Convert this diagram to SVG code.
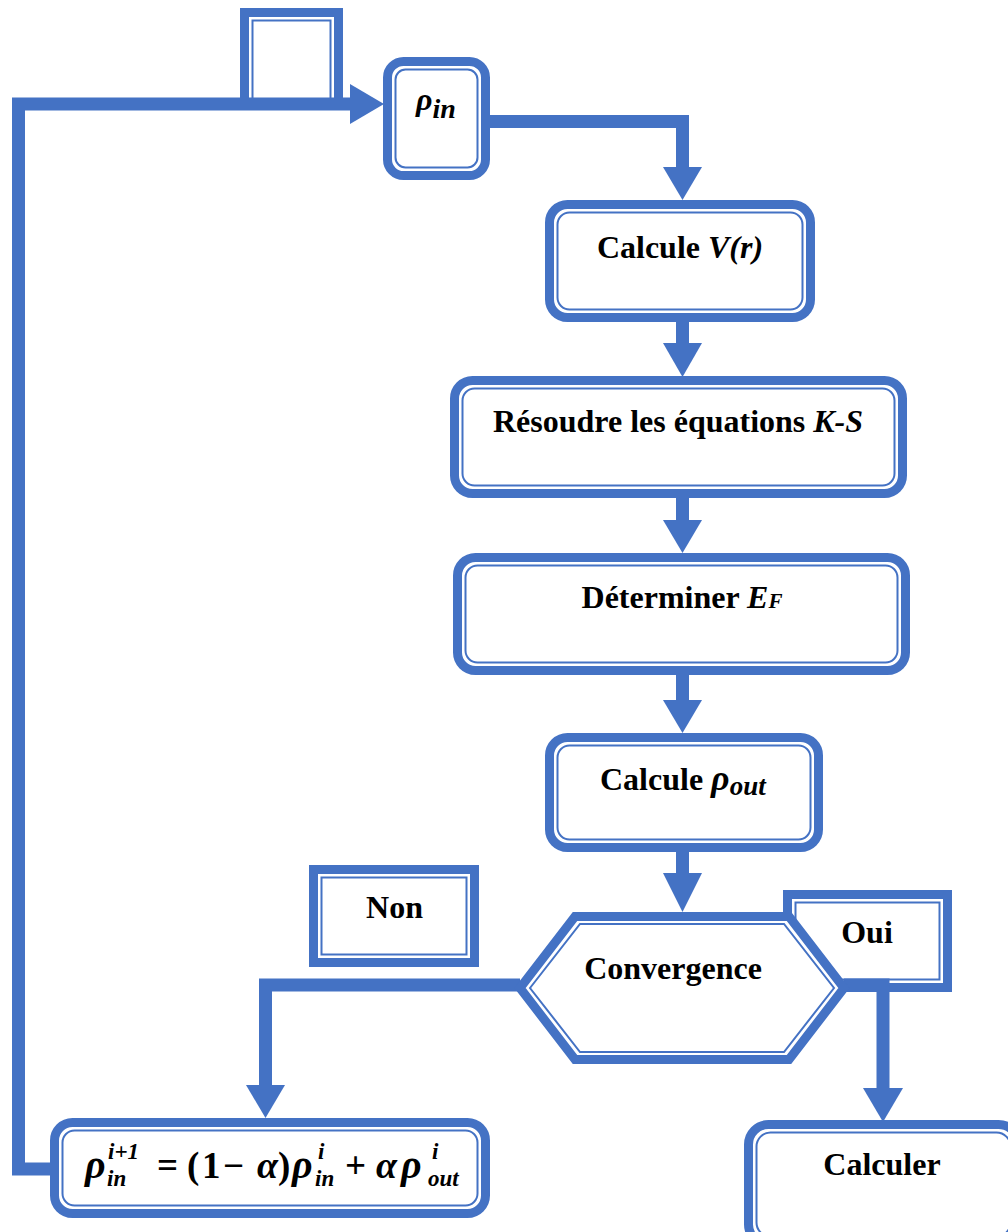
<svg xmlns="http://www.w3.org/2000/svg" width="1008" height="1232" viewBox="0 0 1008 1232">
<defs>
<style>
.outer{fill:#fff;stroke:#4472C4;stroke-width:9}
.inner{fill:none;stroke:#4472C4;stroke-width:2}
.conn{fill:none;stroke:#4472C4;stroke-width:13;stroke-linejoin:miter}
.head{fill:#4472C4}
.t{font-family:"Liberation Serif","Times New Roman",serif;font-weight:bold;font-size:32px;fill:#000}
.m{font-family:"Liberation Serif","Times New Roman",serif;font-weight:bold;font-style:italic;fill:#000}
.mu{font-family:"Liberation Serif","Times New Roman",serif;font-weight:bold;fill:#000}
</style>
</defs>
<rect width="1008" height="1232" fill="#fff"/>

<g id="node-empty">
<rect class="outer" x="244.5" y="12.5" width="94" height="92"/>
<rect class="inner" x="252.5" y="20.5" width="78" height="86"/>
</g>

<g id="node-oui">
<rect class="outer" x="787.5" y="894.5" width="160" height="93"/>
<rect class="inner" x="795.5" y="902.5" width="144" height="77"/>
<text class="t" x="867" y="943" text-anchor="middle">Oui</text>
</g>

<g id="connectors">
<polyline class="conn" points="52,1169 18.5,1169 18.5,104 352,104"/>
<polygon class="head" points="350,84 384,104 350,124"/>
<polyline class="conn" points="488,121.5 682.5,121.5 682.5,170"/>
<polygon class="head" points="663,167 702,167 682.5,200"/>
<line class="conn" x1="682.5" y1="320" x2="682.5" y2="346"/>
<polygon class="head" points="663,343 702,343 682.5,377"/>
<line class="conn" x1="682.5" y1="496" x2="682.5" y2="523"/>
<polygon class="head" points="663,520 702,520 682.5,553"/>
<line class="conn" x1="682.5" y1="673" x2="682.5" y2="703"/>
<polygon class="head" points="663,700 702,700 682.5,733"/>
<line class="conn" x1="682.5" y1="850" x2="682.5" y2="876"/>
<polygon class="head" points="663,873 702,873 682.5,912"/>
<polyline class="conn" points="520,985 265.5,985 265.5,1088"/>
<polygon class="head" points="246,1085 285,1085 265.5,1118"/>
<polyline class="conn" points="844,985 883,985 883,1091"/>
<polygon class="head" points="863,1088 903,1088 883,1122"/>
</g>

<g id="node-rho-in">
<rect class="outer" x="387.5" y="61.5" width="98" height="114" rx="16"/>
<rect class="inner" x="395.5" y="69.5" width="82" height="98" rx="10"/>
<text class="m" x="416" y="110" font-size="32">ρ<tspan font-size="28" dy="8">in</tspan></text>
</g>

<g id="node-potential">
<rect class="outer" x="549.5" y="204.5" width="261" height="113" rx="18"/>
<rect class="inner" x="557.5" y="212.5" width="245" height="97" rx="12"/>
<text class="t" x="680" y="258" text-anchor="middle">Calcule <tspan font-style="italic">V(r)</tspan></text>
</g>

<g id="node-ks">
<rect class="outer" x="454.5" y="380.5" width="448" height="113" rx="18"/>
<rect class="inner" x="462.5" y="388.5" width="432" height="97" rx="12"/>
<text class="t" x="678" y="432" text-anchor="middle">Résoudre les équations <tspan font-style="italic">K-S</tspan></text>
</g>

<g id="node-fermi">
<rect class="outer" x="457.5" y="557.5" width="448" height="113" rx="18"/>
<rect class="inner" x="465.5" y="565.5" width="432" height="97" rx="12"/>
<text class="t" x="682" y="608" text-anchor="middle">Déterminer <tspan font-style="italic">E</tspan><tspan font-style="italic" font-size="21">F</tspan></text>
</g>

<g id="node-rho-out">
<rect class="outer" x="549.5" y="737.5" width="269" height="110" rx="18"/>
<rect class="inner" x="557.5" y="745.5" width="253" height="94" rx="12"/>
<text class="t" x="600" y="790">Calcule <tspan font-style="italic" font-size="36">ρ</tspan><tspan font-style="italic" font-size="27" dy="5">out</tspan></text>
</g>

<g id="node-convergence">
<polygon class="outer" points="520,988 575,916.5 789,916.5 844,988 789,1059.5 575,1059.5"/>
<polygon class="inner" points="530,988 580,924 784,924 834,988 784,1052 580,1052"/>
<text class="t" x="673" y="979" text-anchor="middle">Convergence</text>
</g>

<g id="node-non">
<rect class="outer" x="313.5" y="869.5" width="161" height="93"/>
<rect class="inner" x="321.5" y="877.5" width="145" height="77"/>
<text class="t" x="394.5" y="918" text-anchor="middle">Non</text>
</g>

<g id="node-update">
<rect class="outer" x="54.5" y="1122.5" width="431" height="91" rx="18"/>
<rect class="inner" x="62.5" y="1130.5" width="415" height="75" rx="12"/>
<text class="m" font-size="40" x="85" y="1178">ρ</text>
<text class="m" font-size="23" x="107" y="1186">in</text>
<text class="m" font-size="23" x="108" y="1159">i<tspan class="mu">+1</tspan></text>
<text class="mu" font-size="37" x="157" y="1178">=</text>
<text class="mu" font-size="37" x="187" y="1178">(</text>
<text class="mu" font-size="37" x="202" y="1178">1</text>
<text class="mu" font-size="37" x="223" y="1178">−</text>
<text class="m" font-size="38" x="257" y="1178">α</text>
<text class="mu" font-size="37" x="278" y="1178">)</text>
<text class="m" font-size="40" x="292" y="1178">ρ</text>
<text class="m" font-size="23" x="315" y="1186">in</text>
<text class="m" font-size="23" x="318" y="1159">i</text>
<text class="mu" font-size="37" x="345" y="1178">+</text>
<text class="m" font-size="38" x="376" y="1178">α</text>
<text class="m" font-size="40" x="401" y="1178">ρ</text>
<text class="m" font-size="23" x="428" y="1186">out</text>
<text class="m" font-size="23" x="432" y="1159">i</text>
</g>

<g id="node-calculer">
<rect class="outer" x="748.5" y="1124.5" width="270" height="120" rx="20"/>
<rect class="inner" x="756.5" y="1132.5" width="254" height="104" rx="14"/>
<text class="t" x="882" y="1175" text-anchor="middle">Calculer</text>
</g>
</svg>
